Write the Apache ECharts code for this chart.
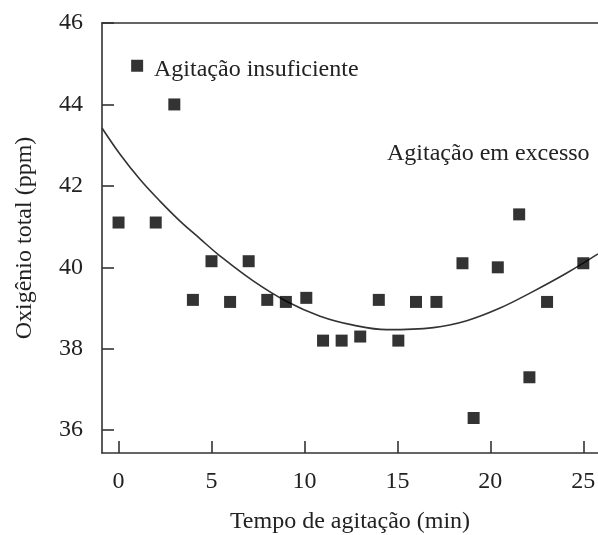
<!DOCTYPE html>
<html><head><meta charset="utf-8">
<script src="https://cdn.jsdelivr.net/npm/echarts@6/dist/echarts.min.js"></script>
<style>html,body{margin:0;padding:0;background:#fff}#c{width:598px;height:535px}</style>
</head><body><div id="c"></div>
<script>
// Data
const times = [0, 1, 2, 3, 4, 5, 6, 7, 8, 9, 10.1, 11, 12, 13, 14, 15.05, 16, 17.1, 18.5, 19.1, 20.4, 21.55, 22.1, 23.05, 25];
const oxygen = [41.1, 44.95, 41.1, 44.0, 39.2, 40.15, 39.15, 40.15, 39.2, 39.15, 39.25, 38.2, 38.2, 38.3, 39.2, 38.2, 39.15, 39.15, 40.1, 36.3, 40.0, 41.3, 37.3, 39.15, 40.1];
const fitX = [-0.89, 0.09, 1.17, 2.24, 3.32, 4.39, 5.43, 7.26, 9.05, 10.84, 12.63, 14.43, 16.94, 18.73, 20.52, 22.31, 24.11, 25.79];
const fitY = [43.42, 42.77, 42.15, 41.62, 41.13, 40.70, 40.29, 39.66, 39.16, 38.80, 38.58, 38.47, 38.52, 38.69, 39.0, 39.41, 39.86, 40.33];
const xTicks = [0, 5, 10, 15, 20, 25];
const yTicks = [36, 38, 40, 42, 44, 46];
const xTitle = 'Tempo de agitação (min)';
const yTitle = 'Oxigênio total (ppm)';
const note1 = 'Agitação insuficiente';
const note2 = 'Agitação em excesso';

const FONT = '"Liberation Serif", "DejaVu Serif", serif';
const TXT = '#222';
const FS = 24;
const chart = echarts.init(document.getElementById('c'));
const lineStyle = {color: '#333', width: 1.6};
chart.setOption({
  animation: false,
  backgroundColor: '#fff',
  grid: {left: 102, top: 23, right: 0, bottom: 82, outerBoundsMode: 'none', containLabel: false},
  xAxis: [{
    type: 'value', min: -0.89, max: 25.79, position: 'bottom',
    axisLine: {show: true, onZero: false, lineStyle},
    axisTick: {show: true, inside: true, length: 12, customValues: xTicks, lineStyle},
    axisLabel: {customValues: xTicks, margin: 17, fontSize: FS, fontFamily: FONT, color: TXT},
    splitLine: {show: false},
    name: xTitle, nameLocation: 'middle', nameGap: 57,
    nameTextStyle: {fontSize: FS, fontFamily: FONT, color: TXT}
  }, {
    type: 'value', min: -0.89, max: 25.79, position: 'top',
    axisLine: {show: true, onZero: false, lineStyle},
    axisTick: {show: false}, axisLabel: {show: false}, splitLine: {show: false}
  }],
  yAxis: {
    type: 'value', min: 35.44, max: 46,
    axisLine: {show: true, onZero: false, lineStyle},
    axisTick: {show: true, inside: true, length: 12, customValues: yTicks, lineStyle},
    axisLabel: {customValues: yTicks, margin: 19, fontSize: FS, fontFamily: FONT, color: TXT},
    splitLine: {show: false},
    name: yTitle, nameLocation: 'middle', nameGap: 65, nameRotate: 90,
    nameTextStyle: {fontSize: FS, fontFamily: FONT, color: TXT}
  },
  series: [{
    type: 'line', data: fitX.map((x, i) => [x, fitY[i]]), smooth: 0.4, showSymbol: false,
    lineStyle: {color: '#333', width: 1.6}, z: 2
  }, {
    type: 'scatter', data: times.map((x, i) => [x, oxygen[i]]), symbol: 'rect', symbolSize: 12,
    itemStyle: {color: '#000'}, z: 3
  }],
  graphic: [
    {type: 'text', x: 154, y: 70, style: {text: note1, font: FS + 'px ' + FONT, fill: TXT, verticalAlign: 'middle'}},
    {type: 'text', x: 387, y: 154, style: {text: note2, font: FS + 'px ' + FONT, fill: TXT, verticalAlign: 'middle'}}
  ]
});
</script></body></html>
